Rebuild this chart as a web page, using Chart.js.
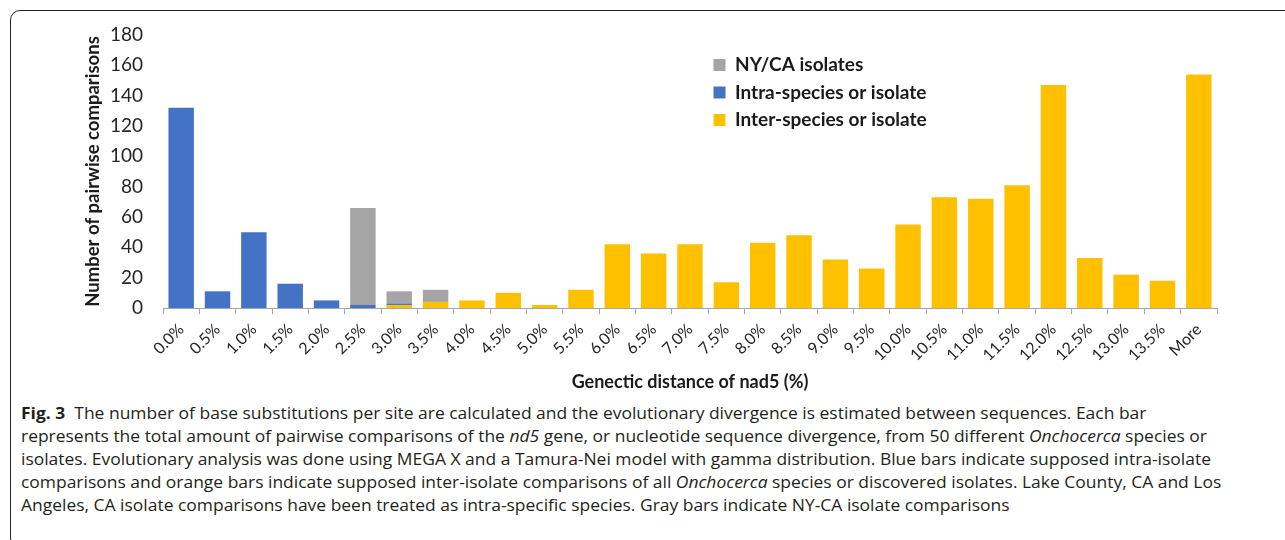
<!DOCTYPE html>
<html>
<head>
<meta charset="utf-8">
<script src="https://cdn.jsdelivr.net/npm/chart.js@4/dist/chart.umd.min.js"></script>
<style>
  html, body { margin: 0; padding: 0; background: #fff; }
  body { width: 1285px; height: 540px; position: relative; overflow: hidden; }
  #frame { position: absolute; left: 10px; top: 10px; width: 1300px; height: 538px;
           border: 1px solid #222; border-radius: 10px; box-sizing: border-box; }
  #wrap { position: absolute; left: 0; top: 0; width: 1285px; height: 400px; }
  .cap { position: absolute; left: 21px; white-space: nowrap; font-family: "Open Sans", sans-serif;
         font-size: 16px; line-height: 23px; color: #231f20; transform-origin: 0 0; }
  .cap b { font-weight: 700; }
</style>
</head>
<body>
<div id="frame"></div>
<div id="wrap"><canvas id="c" width="1285" height="400"></canvas></div>
<div class="cap" style="top:402px"><b>Fig. 3</b>&nbsp; The number of base substitutions per site are calculated and the evolutionary divergence is estimated between sequences. Each bar</div>
<div class="cap" data-w="1196" style="top:425px">represents the total amount of pairwise comparisons of the <i>nd5</i> gene, or nucleotide sequence divergence, from 50 different <i>Onchocerca</i> species or</div>
<div class="cap" data-w="1187" style="top:448px">isolates. Evolutionary analysis was done using MEGA X and a Tamura-Nei model with gamma distribution. Blue bars indicate supposed intra-isolate</div>
<div class="cap" data-w="1193" style="top:471px">comparisons and orange bars indicate supposed inter-isolate comparisons of all <i>Onchocerca</i> species or discovered isolates. Lake County, CA and Los</div>
<div class="cap" style="top:494px">Angeles, CA isolate comparisons have been treated as intra-specific species. Gray bars indicate NY-CA isolate comparisons</div>
<script>
const categories = ["0.0%","0.5%","1.0%","1.5%","2.0%","2.5%","3.0%","3.5%","4.0%","4.5%","5.0%","5.5%","6.0%","6.5%","7.0%","7.5%","8.0%","8.5%","9.0%","9.5%","10.0%","10.5%","11.0%","11.5%","12.0%","12.5%","13.0%","13.5%","More"];
const interSpecies = [0,0,0,0,0,0,2,4,5,10,2,12,42,36,42,17,43,48,32,26,55,73,72,81,147,33,22,18,154];
const intraSpecies = [132,11,50,16,5,2,1,0,0,0,0,0,0,0,0,0,0,0,0,0,0,0,0,0,0,0,0,0,0];
const nyCaIsolates = [0,0,0,0,0,64,8,8,0,0,0,0,0,0,0,0,0,0,0,0,0,0,0,0,0,0,0,0,0];
const yTicks = [0,20,40,60,80,100,120,140,160,180];

const legendMover = {
  id: 'legendMover',
  afterLayout(chart) {
    const lg = chart.legend;
    const dx = 705 - lg.left, dy = 47 - lg.top;
    lg.left += dx; lg.right += dx; lg.top += dy; lg.bottom += dy;
  }
};

new Chart(document.getElementById('c'), {
  type: 'bar',
  data: {
    labels: categories,
    datasets: [
      { label: 'Inter-species or isolate', data: interSpecies, backgroundColor: '#FFC000' },
      { label: 'Intra-species or isolate', data: intraSpecies, backgroundColor: '#4472C4' },
      { label: 'NY/CA isolates', data: nyCaIsolates, backgroundColor: '#A5A5A5' }
    ]
  },
  options: {
    responsive: false,
    animation: false,
    layout: { padding: { left: 75, right: 68, top: 35, bottom: 0 } },
    datasets: { bar: { categoryPercentage: 0.7, barPercentage: 1.0, borderWidth: 0 } },
    plugins: {
      tooltip: { enabled: false },
      legend: {
        position: 'chartArea',
        align: 'start',
        reverse: true,
        labels: {
          boxWidth: 12, boxHeight: 12, padding: 8.5,
          color: '#1a1a1a',
          font: { family: 'Lato', size: 19, weight: 'bold' }
        }
      }
    },
    scales: {
      x: {
        stacked: true,
        grid: { display: true, drawOnChartArea: false, drawTicks: true, tickLength: 6, color: '#A6A6A6', offset: true },
        border: { display: true, color: '#A6A6A6', width: 1 },
        ticks: { maxRotation: 45, minRotation: 45, autoSkip: false, padding: 6, color: '#262626',
                 font: { family: 'Lato', size: 16 } },
        title: { display: true, text: 'Genectic distance of nad5 (%)', color: '#1a1a1a',
                 font: { family: 'Lato', size: 18, weight: 'bold' }, padding: { top: 0, bottom: 7 } },
        afterFit(s) { s.height = 92; }
      },
      y: {
        stacked: true,
        min: 0, max: 180,
        afterBuildTicks(s) { s.ticks = yTicks.map(v => ({ value: v })); },
        grid: { display: false, drawTicks: false },
        border: { display: false },
        ticks: { padding: 20, color: '#262626', font: { family: 'Lato', size: 19 } },
        title: { display: true, text: 'Number of pairwise comparisons', color: '#1a1a1a',
                 font: { family: 'Lato', size: 18.5, weight: 'bold' }, padding: { top: 7, bottom: 0 } },
        afterFit(s) { s.width = 88; }
      }
    }
  },
  plugins: [legendMover]
});

// one common horizontal scale for the caption, fitted on the full-width lines
const caps = Array.from(document.querySelectorAll('.cap'));
let sum = 0, n = 0;
caps.forEach(el => {
  if (el.dataset.w) { sum += parseFloat(el.dataset.w) / el.getBoundingClientRect().width; n++; }
});
const sx = sum / n;
caps.forEach(el => { el.style.transform = 'scaleX(' + sx + ')'; });
</script>
</body>
</html>
